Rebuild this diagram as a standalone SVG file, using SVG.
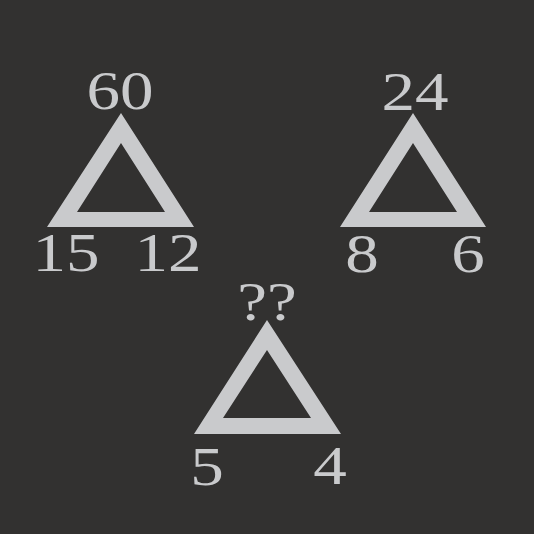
<svg xmlns="http://www.w3.org/2000/svg" width="534" height="534" viewBox="0 0 534 534">
<style>
.t{fill:#c9cacc;fill-rule:evenodd}
.n{fill:#c9cacc;font-family:"Liberation Serif","Times New Roman",serif;font-size:55px;text-anchor:middle}
</style>
<rect width="534" height="534" fill="#323130"/>
<g id="tri1">
<path class="t" d="M121,113 L194,227 L47,227 Z M121,143 L77,212 L165,212 Z"/>
<text class="n" transform="translate(120,109) scale(1.22,1)">60</text>
<text class="n" transform="translate(66,271) scale(1.22,1)">15</text>
<text class="n" transform="translate(168,271) scale(1.22,1)">12</text>
</g>
<g id="tri2">
<path class="t" d="M413,113 L486,227 L340,227 Z M413,143 L369,212 L457,212 Z"/>
<text class="n" transform="translate(415,110) scale(1.22,1)">24</text>
<text class="n" transform="translate(362,272) scale(1.22,1)">8</text>
<text class="n" transform="translate(468,272) scale(1.22,1)">6</text>
</g>
<g id="tri3">
<path class="t" d="M267,320 L341,434 L194,434 Z M267,350 L223,418 L311,418 Z"/>
<text class="n" transform="translate(267,320) scale(1.22,1)">??</text>
<text class="n" transform="translate(207,485) scale(1.22,1)">5</text>
<text class="n" transform="translate(330,484) scale(1.22,1)">4</text>
</g>
<g id="connectors"/>
</svg>
